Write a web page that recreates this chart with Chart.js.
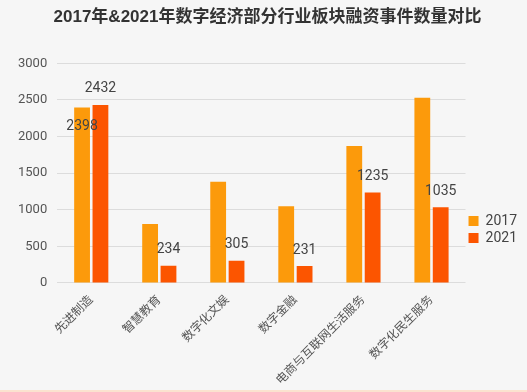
<!DOCTYPE html>
<html>
<head>
<meta charset="utf-8">
<script src="https://cdn.jsdelivr.net/npm/chart.js@4"></script>
<style>
html,body{margin:0;padding:0;background:#f6f6f6;}
#wrap{width:527px;height:390px;border-bottom:2px solid #fbe2cf;}
</style>
</head>
<body>
<div id="wrap"><canvas id="canvas" width="527" height="390"></canvas></div>
<script>
var categories=['先进制造','智慧教育','数字化文娱','数字金融','电商与互联网生活服务','数字化民生服务'];
var values2017=[2398,806,1383,1047,1871,2531];
var values2021=[2432,234,305,231,1235,1035];
// only these values are labelled in the picture
var labels2017=[2398,null,null,null,null,null];
var labels2021=[2432,234,305,231,1235,1035];
var yTicks=[0,500,1000,1500,2000,2500,3000];

var FONT='Roboto,"Noto Sans CJK SC",sans-serif';

//draws the value labels; 2017 ones go inside the bar top, 2021 ones above
var valueLabels={
	id:'valueLabels',
	afterDatasetsDraw:function(chart){
		var ctx=chart.ctx;
		ctx.save();
		ctx.font='14px '+FONT;
		ctx.fillStyle='#444';
		ctx.textAlign='center';
		ctx.textBaseline='middle';
		var lists=[labels2017,labels2021];
		var offs=[19,-16];
		for(var d=0;d<2;d++){
			var meta=chart.getDatasetMeta(d);
			for(var i=0;i<lists[d].length;i++){
				if(lists[d][i]==null) continue;
				var el=meta.data[i];
				ctx.fillText(String(lists[d][i]),el.x,el.y+offs[d]);
			}
		}
		ctx.restore();
	}
};

var config={};
config['type']='bar';
config['data']={
	labels:categories,
	datasets:[
		{label:'2017',data:values2017,backgroundColor:'#fc9a0b'},
		{label:'2021',data:values2021,backgroundColor:'#fc5500'}
	]
};
config['plugins']=[valueLabels];
config['options']={
	responsive:false,
	animation:false,
	layout:{padding:{left:8,right:0,top:0,bottom:0}},
	datasets:{bar:{categoryPercentage:0.54,barPercentage:0.86}},
	plugins:{
		title:{display:true,text:'2017年&2021年数字经济部分行业板块融资事件数量对比',color:'#333',
			font:{family:'"Liberation Sans","Noto Sans CJK SC",sans-serif',size:17,weight:'bold'},padding:{top:7,bottom:36}},
		legend:{position:'right',
			title:{display:true,text:'',font:{size:1},padding:{top:68,bottom:0}},
			labels:{boxWidth:10,boxHeight:10,padding:3,color:'#444',font:{family:FONT,size:14}}},
		tooltip:{enabled:false}
	},
	scales:{
		x:{grid:{display:false},border:{display:false},
			ticks:{color:'#555',font:{family:FONT,size:12},minRotation:45,maxRotation:45,padding:2}},
		y:{min:0,max:3000,
			afterBuildTicks:function(axis){axis.ticks=yTicks.map(function(v){return {value:v};});},
			grid:{color:'#dcdcdc',drawTicks:false},border:{display:false},
			ticks:{color:'#555',font:{family:FONT,size:13},padding:10,callback:function(v){return String(v);}}}
	}
};

var ctx=document.getElementById('canvas').getContext('2d');
window.myBar=new Chart(ctx,config);
</script>
</body>
</html>
